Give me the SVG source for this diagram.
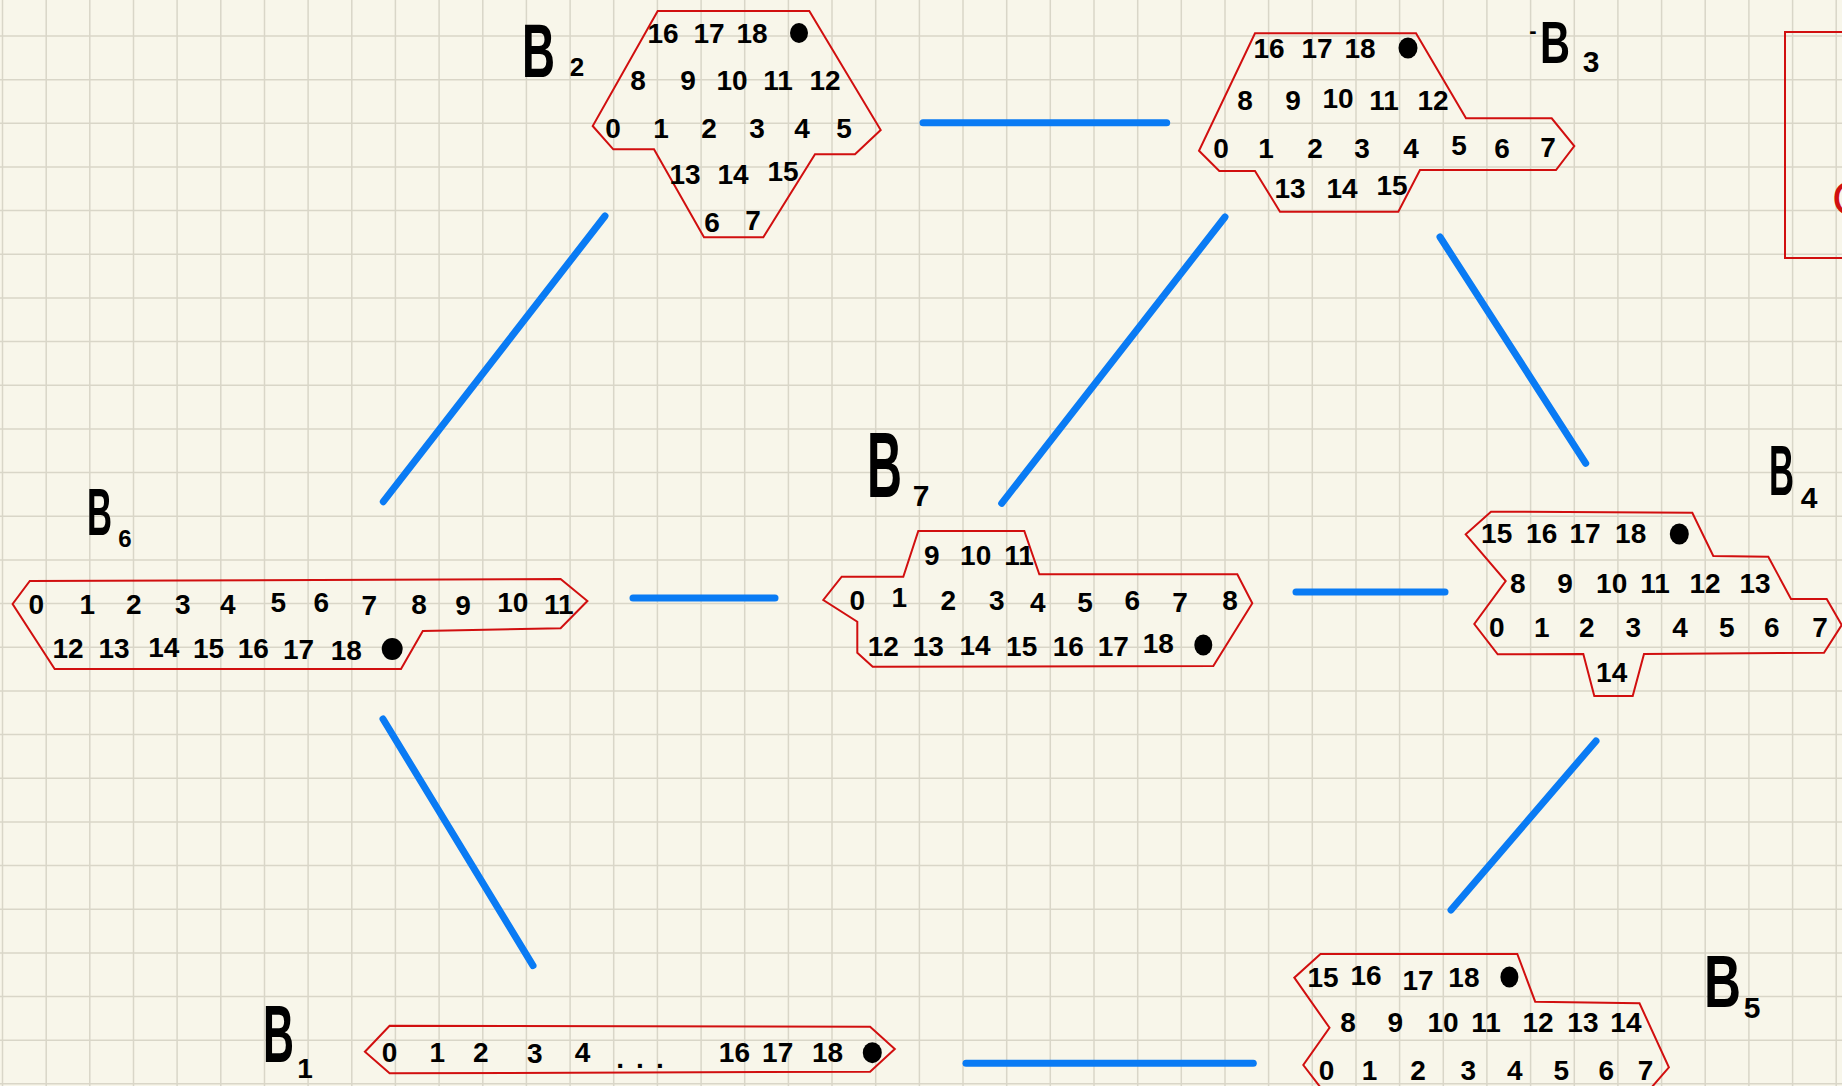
<svg xmlns="http://www.w3.org/2000/svg" width="1842" height="1086" viewBox="0 0 1842 1086">
<style>
.bg{fill:#f8f6ea}
.grid{fill:none;stroke:#d9d6c8;stroke-width:1.5}
.shape{fill:none;stroke:#d10f0f;stroke-width:2;stroke-linejoin:miter}
.n{font-family:"Liberation Sans Narrow","Liberation Sans",Arial,sans-serif;font-size:28px;font-weight:bold;fill:#000;text-anchor:middle}
.lb{font-family:"Liberation Sans Narrow","Liberation Sans",Arial,sans-serif;fill:#000;font-weight:bold}
.s{text-anchor:middle}
.dot{fill:#000}
.edge{stroke:#0a7bf4;stroke-width:7;stroke-linecap:round;fill:none}
</style>
<rect class="bg" x="0" y="0" width="1842" height="1086"/>
<path class="grid" d="M2.5 0V1086M46.2 0V1086M89.8 0V1086M133.5 0V1086M177.1 0V1086M220.8 0V1086M264.5 0V1086M308.1 0V1086M351.8 0V1086M395.4 0V1086M439.1 0V1086M482.8 0V1086M526.4 0V1086M570.1 0V1086M613.7 0V1086M657.4 0V1086M701.1 0V1086M744.7 0V1086M788.4 0V1086M832 0V1086M875.7 0V1086M919.4 0V1086M963 0V1086M1006.7 0V1086M1050.3 0V1086M1094 0V1086M1137.7 0V1086M1181.3 0V1086M1225 0V1086M1268.6 0V1086M1312.3 0V1086M1356 0V1086M1399.6 0V1086M1443.3 0V1086M1486.9 0V1086M1530.6 0V1086M1574.3 0V1086M1617.9 0V1086M1661.6 0V1086M1705.2 0V1086M1748.9 0V1086M1792.6 0V1086M1836.2 0V1086M0 36H1842M0 79.7H1842M0 123.3H1842M0 167H1842M0 210.6H1842M0 254.3H1842M0 298H1842M0 341.6H1842M0 385.3H1842M0 428.9H1842M0 472.6H1842M0 516.3H1842M0 559.9H1842M0 603.6H1842M0 647.2H1842M0 690.9H1842M0 734.6H1842M0 778.2H1842M0 821.9H1842M0 865.5H1842M0 909.2H1842M0 952.9H1842M0 996.5H1842M0 1040.2H1842M0 1083.8H1842"/>

<g id="connectors">
<line class="edge" x1="923" y1="122.7" x2="1166.7" y2="122.7"/>
<line class="edge" x1="605" y1="216" x2="383.3" y2="501.7"/>
<line class="edge" x1="1225" y1="217" x2="1001.7" y2="503.3"/>
<line class="edge" x1="1440" y1="237" x2="1585.7" y2="463.3"/>
<line class="edge" x1="633" y1="598" x2="775" y2="598"/>
<line class="edge" x1="1296" y1="592" x2="1445" y2="592"/>
<line class="edge" x1="383" y1="719" x2="533" y2="965.6"/>
<line class="edge" x1="1596" y1="741" x2="1451" y2="910"/>
<line class="edge" x1="966" y1="1063.3" x2="1253.3" y2="1063.3"/>
</g>

<g id="B2">
<polygon class="shape" points="657.7,11 809.3,11 880.7,130 855,154.3 815,154.3 763.3,237.3 704,237.3 654,149.3 613.3,149.3 592.7,126"/>
<text class="lb" x="522" y="77"><tspan font-size="76" textLength="33" lengthAdjust="spacingAndGlyphs">B</tspan><tspan class="s" x="577" y="76" font-size="26">2</tspan></text>
<text class="n" x="663" y="43">16</text><text class="n" x="709" y="43">17</text><text class="n" x="752" y="43">18</text>
<ellipse class="dot" cx="799" cy="33" rx="9" ry="10"/>
<text class="n" x="638" y="90">8</text><text class="n" x="688" y="90">9</text><text class="n" x="732" y="90">10</text><text class="n" x="778" y="90">11</text><text class="n" x="825" y="90">12</text>
<text class="n" x="613" y="138">0</text><text class="n" x="661" y="138">1</text><text class="n" x="709" y="138">2</text><text class="n" x="757" y="138">3</text><text class="n" x="802" y="138">4</text><text class="n" x="844" y="138">5</text>
<text class="n" x="685" y="184">13</text><text class="n" x="733" y="184">14</text><text class="n" x="783" y="181">15</text>
<text class="n" x="712" y="232">6</text><text class="n" x="753" y="230">7</text>
</g>

<g id="B3">
<polygon class="shape" points="1255,33.3 1416,33.3 1466,118.3 1551.7,118.3 1574.3,146 1556,170 1420,170 1398.3,211.7 1280,211.7 1255,171 1219.3,171 1199,150.7"/>
<text class="lb" x="1533" y="38"><tspan class="s" font-size="22">-</tspan><tspan x="1540" y="63" font-size="60" textLength="30" lengthAdjust="spacingAndGlyphs">B</tspan><tspan class="s" x="1591" y="72" font-size="30">3</tspan></text>
<text class="n" x="1269" y="58">16</text><text class="n" x="1317" y="58">17</text><text class="n" x="1360" y="58">18</text>
<ellipse class="dot" cx="1408" cy="48" rx="9.5" ry="10.5"/>
<text class="n" x="1245" y="110">8</text><text class="n" x="1293" y="110">9</text><text class="n" x="1338" y="108">10</text><text class="n" x="1384" y="110">11</text><text class="n" x="1433" y="110">12</text>
<text class="n" x="1221" y="158">0</text><text class="n" x="1266" y="158">1</text><text class="n" x="1315" y="158">2</text><text class="n" x="1362" y="158">3</text><text class="n" x="1411" y="158">4</text><text class="n" x="1459" y="155">5</text><text class="n" x="1502" y="158">6</text><text class="n" x="1548" y="157">7</text>
<text class="n" x="1290" y="198">13</text><text class="n" x="1342" y="198">14</text><text class="n" x="1392" y="195">15</text>
</g>

<g id="B6">
<polygon class="shape" points="29.8,581 560.6,579 587.4,601 560.6,628.3 422.8,631 401,669 54.7,669 12.6,604"/>
<text class="lb" x="87" y="535"><tspan font-size="67" textLength="25" lengthAdjust="spacingAndGlyphs">B</tspan><tspan class="s" x="125" y="547" font-size="24">6</tspan></text>
<text class="n" x="36.4" y="614">0</text><text class="n" x="87.2" y="614">1</text><text class="n" x="133.9" y="614">2</text><text class="n" x="182.9" y="614">3</text><text class="n" x="227.7" y="614">4</text><text class="n" x="278.2" y="612">5</text><text class="n" x="321.4" y="612">6</text><text class="n" x="369.3" y="615">7</text><text class="n" x="419" y="614">8</text><text class="n" x="463" y="615">9</text><text class="n" x="512.8" y="612">10</text><text class="n" x="558.7" y="614">11</text>
<text class="n" x="68.1" y="658">12</text><text class="n" x="114" y="658">13</text><text class="n" x="163.8" y="657">14</text><text class="n" x="208.5" y="658">15</text><text class="n" x="253.3" y="658">16</text><text class="n" x="298.5" y="659">17</text><text class="n" x="346.3" y="660">18</text>
<ellipse class="dot" cx="392.2" cy="649" rx="10.5" ry="11"/>
</g>

<g id="B7">
<polygon class="shape" points="918.3,531 1024.3,531 1039.3,574.3 1237.3,574.3 1252.3,603.3 1213.3,666 872.7,666.7 857.3,652.7 857.3,621.7 823.3,600 841.7,576.7 903.3,576.7"/>
<text class="lb" x="867" y="497"><tspan font-size="92" textLength="35" lengthAdjust="spacingAndGlyphs">B</tspan><tspan class="s" x="921" y="506" font-size="30">7</tspan></text>
<text class="n" x="931.7" y="565">9</text><text class="n" x="975.7" y="565">10</text><text class="n" x="1019" y="565">11</text>
<text class="n" x="857.3" y="610">0</text><text class="n" x="899.3" y="607">1</text><text class="n" x="948.3" y="610">2</text><text class="n" x="996.7" y="610">3</text><text class="n" x="1037.7" y="612">4</text><text class="n" x="1085" y="612">5</text><text class="n" x="1132.3" y="610">6</text><text class="n" x="1180" y="612">7</text><text class="n" x="1230" y="610">8</text>
<text class="n" x="883.3" y="656">12</text><text class="n" x="928.3" y="656">13</text><text class="n" x="975" y="655">14</text><text class="n" x="1021.7" y="656">15</text><text class="n" x="1068.3" y="656">16</text><text class="n" x="1113.3" y="656">17</text><text class="n" x="1158.3" y="653">18</text>
<ellipse class="dot" cx="1203.3" cy="645" rx="9" ry="10.5"/>
</g>

<g id="B4">
<polygon class="shape" points="1491,511.7 1692.3,512.7 1713.3,556 1768.3,556.7 1791,599 1826.7,599 1841.7,625 1824,652.7 1644,654 1632.7,696 1594.3,696 1583.3,654 1497.7,654.3 1474.3,624 1505.7,581 1465.7,534.3"/>
<text class="lb" x="1769" y="495"><tspan font-size="70" textLength="25" lengthAdjust="spacingAndGlyphs">B</tspan><tspan class="s" x="1809" y="508" font-size="30">4</tspan></text>
<text class="n" x="1496.7" y="543">15</text><text class="n" x="1541.7" y="543">16</text><text class="n" x="1585" y="543">17</text><text class="n" x="1630.7" y="543">18</text>
<ellipse class="dot" cx="1679.3" cy="534" rx="9.5" ry="10.5"/>
<text class="n" x="1517.7" y="593">8</text><text class="n" x="1565" y="593">9</text><text class="n" x="1611.7" y="593">10</text><text class="n" x="1655" y="593">11</text><text class="n" x="1705" y="593">12</text><text class="n" x="1755" y="593">13</text>
<text class="n" x="1496.7" y="637">0</text><text class="n" x="1541.7" y="637">1</text><text class="n" x="1586.7" y="637">2</text><text class="n" x="1633.3" y="637">3</text><text class="n" x="1680" y="637">4</text><text class="n" x="1726.7" y="637">5</text><text class="n" x="1771.7" y="637">6</text><text class="n" x="1820" y="637">7</text>
<text class="n" x="1611.7" y="682">14</text>
</g>

<g id="B1">
<polygon class="shape" points="389.6,1025.7 870.1,1026.7 894.8,1049 870.1,1071.7 389.6,1073.3 364.9,1051.7"/>
<text class="lb" x="263" y="1062"><tspan font-size="82" textLength="31" lengthAdjust="spacingAndGlyphs">B</tspan><tspan class="s" x="305" y="1078" font-size="28">1</tspan></text>
<text class="n" x="389.6" y="1062">0</text><text class="n" x="437.3" y="1062">1</text><text class="n" x="480.7" y="1062">2</text><text class="n" x="534.9" y="1063">3</text><text class="n" x="582.6" y="1062">4</text>
<text class="n" x="646" y="1068" letter-spacing="12">...</text>
<text class="n" x="734.4" y="1062">16</text><text class="n" x="777.7" y="1062">17</text><text class="n" x="827.6" y="1062">18</text>
<ellipse class="dot" cx="872.3" cy="1052.7" rx="9.5" ry="10.5"/>
</g>

<g id="B5">
<polygon class="shape" points="1320.5,954 1517.3,954 1535.2,1001.7 1639.5,1003.3 1668.9,1067.3 1645,1095 1326.3,1095 1303.3,1065 1329.5,1027.7 1294.3,977.7"/>
<text class="lb" x="1704" y="1007"><tspan font-size="75" textLength="37" lengthAdjust="spacingAndGlyphs">B</tspan><tspan class="s" x="1752" y="1018" font-size="30">5</tspan></text>
<text class="n" x="1323" y="987">15</text><text class="n" x="1366" y="985">16</text><text class="n" x="1418" y="990">17</text><text class="n" x="1463.9" y="987">18</text>
<ellipse class="dot" cx="1509.4" cy="977" rx="9" ry="10.5"/>
<text class="n" x="1348.1" y="1032">8</text><text class="n" x="1395.4" y="1032">9</text><text class="n" x="1443.1" y="1032">10</text><text class="n" x="1486.1" y="1032">11</text><text class="n" x="1538.1" y="1032">12</text><text class="n" x="1582.9" y="1032">13</text><text class="n" x="1625.9" y="1032">14</text>
<text class="n" x="1326.6" y="1080">0</text><text class="n" x="1369.6" y="1080">1</text><text class="n" x="1418" y="1080">2</text><text class="n" x="1468.2" y="1080">3</text><text class="n" x="1514.8" y="1080">4</text><text class="n" x="1561.4" y="1080">5</text><text class="n" x="1606.2" y="1080">6</text><text class="n" x="1645.6" y="1080">7</text>
</g>

<g id="partial-box">
<rect class="shape" x="1785" y="32" width="120" height="226"/>
<text x="1832" y="215" font-family="Liberation Sans, Arial, sans-serif" font-size="48" fill="#d10f0f">C</text>
</g>
</svg>
